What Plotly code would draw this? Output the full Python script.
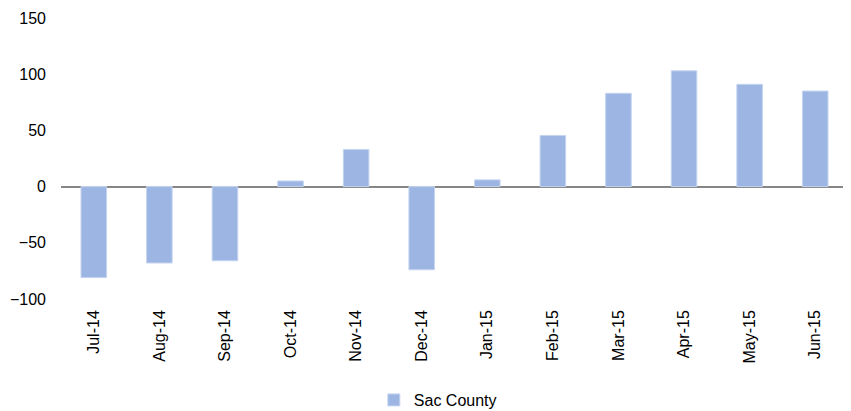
import plotly.graph_objects as go

months = ["Jul-14", "Aug-14", "Sep-14", "Oct-14", "Nov-14", "Dec-14",
          "Jan-15", "Feb-15", "Mar-15", "Apr-15", "May-15", "Jun-15"]
sac_county = [-81, -68, -66, 5, 33, -74, 6, 45.5, 83, 103, 91, 85]
y_ticks = [-100, -50, 0, 50, 100, 150]

FONT = "Liberation Sans, Arial, sans-serif"

fig = go.Figure()
fig.add_trace(go.Bar(
    x=months, y=sac_county, name="Sac County",
    marker=dict(color="#9CB5E3", line=dict(color="#C5D5F0", width=1)),
    showlegend=True,
))

fig.update_layout(
    width=843, height=403,
    margin=dict(l=53, r=3, t=10, b=112),
    plot_bgcolor="white", paper_bgcolor="white",
    font=dict(family=FONT, size=16, color="#000000"),
    bargap=0.61,
    showlegend=True,
    legend=dict(orientation="h", x=0.3975, xanchor="left", y=0.0273, yanchor="middle",
                yref="container", itemwidth=30, font=dict(size=16, family=FONT)),
    xaxis=dict(tickangle=-90, showgrid=False, showline=False, ticks="",
               tickfont=dict(size=16), ticklabelstandoff=7),
    yaxis=dict(range=[-100, 150], tickvals=y_ticks, showgrid=False,
               showline=False, ticks="", zeroline=True, zerolinecolor="#868686",
               zerolinewidth=2, tickfont=dict(size=16), ticklabelstandoff=14),
)

fig.write_html("out.html")
